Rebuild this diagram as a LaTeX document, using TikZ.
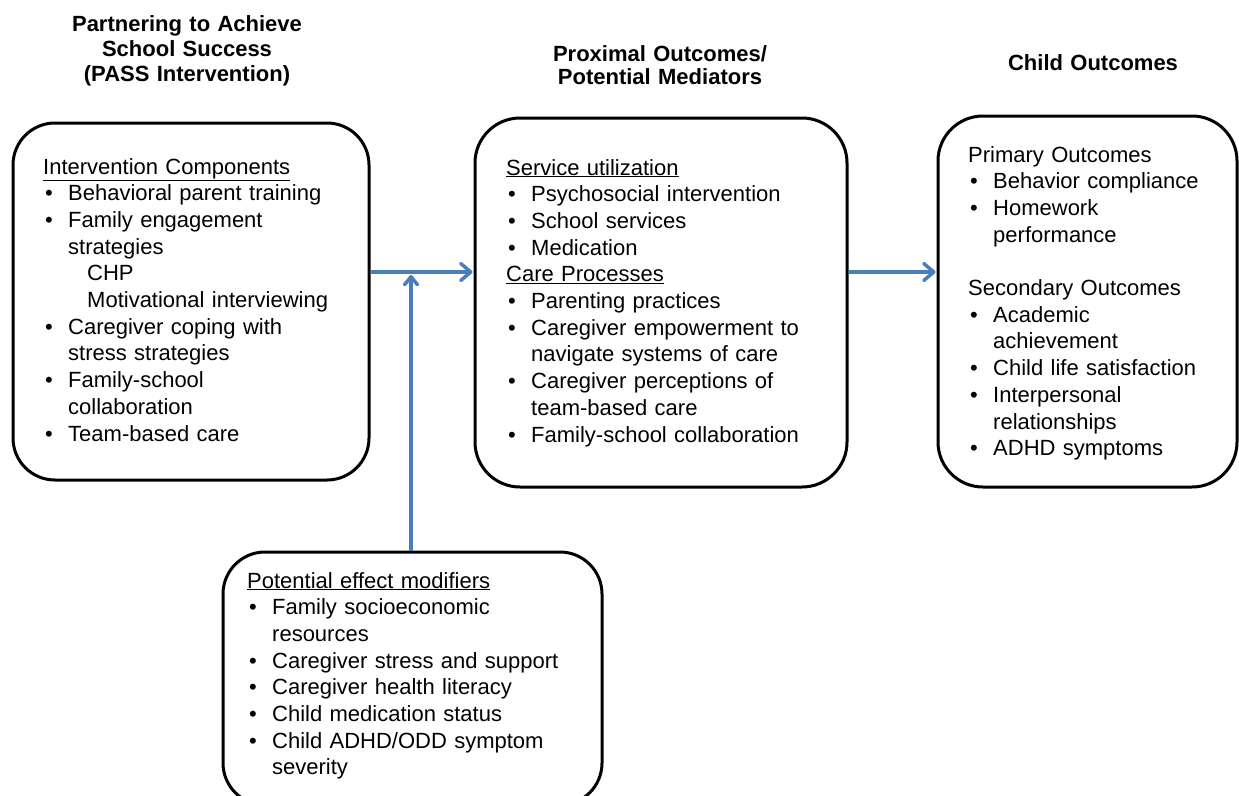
\documentclass[tikz,border=0pt]{standalone}
\usepackage{fontspec}
\setmainfont{Liberation Sans}
\usetikzlibrary{arrows.meta}
\definecolor{arrowblue}{RGB}{74,126,187}
\newcommand{\bl}{\makebox[25pt][l]{\hspace*{2pt}•}}
\newcommand{\ci}{\hspace*{25pt}}
\begin{document}
\begin{tikzpicture}[x=1pt,y=-1pt,
  boxstyle/.style={draw=black, line width=3pt, rounded corners=42pt, inner sep=0pt},
  bodytext/.style={anchor=base west, inner sep=0pt, text width=340pt, align=left, font=\fontsize{22}{26.7}\selectfont},
  titletext/.style={anchor=base, inner sep=0pt, text width=320pt, align=center, font=\fontsize{22}{25}\selectfont\bfseries},
  flow/.style={draw=arrowblue, line width=3.5pt, -{Straight Barb[length=10pt,width=17pt,round]}},
  flowsmall/.style={draw=arrowblue, line width=3.5pt, -{Straight Barb[length=8pt,width=13pt,round]}}
]
\useasboundingbox (0,0) rectangle (1239,795);
\clip (0,0) rectangle (1239,795);

% titles
\node[titletext] (title1) at (187,31) {Partnering to Achieve\\School Success\\(PASS Intervention)};
\node[titletext, font=\fontsize{22}{23}\selectfont\bfseries] (title2) at (660,61) {Proximal Outcomes/\\Potential Mediators};
\node[titletext] (title3) at (1093,70) {Child Outcomes};

% boxes
\node[boxstyle, minimum width=356pt, minimum height=357pt] (box1) at (191,301.5) {};
\node[boxstyle, minimum width=372pt, minimum height=369pt, rounded corners=45pt] (box2) at (661,302.5) {};
\node[boxstyle, minimum width=299pt, minimum height=371pt, rounded corners=45pt] (box3) at (1087.5,301.5) {};
\node[boxstyle, minimum width=379pt, minimum height=253pt] (box4) at (412.5,678.5) {};

% box texts
\node[bodytext] (t1) at (43,174) {\underline{Intervention Components}\\
\bl Behavioral parent training\\
\bl Family engagement\\
\ci strategies\\
\hspace*{44pt}CHP\\
\hspace*{44pt}Motivational interviewing\\
\bl Caregiver coping with\\
\ci stress strategies\\
\bl Family-school\\
\ci collaboration\\
\bl Team-based care};

\node[bodytext] (t2) at (506,175) {\underline{Service utilization}\\
\bl Psychosocial intervention\\
\bl School services\\
\bl Medication\\
\underline{Care Processes}\\
\bl Parenting practices\\
\bl Caregiver empowerment to\\
\ci navigate systems of care\\
\bl Caregiver perceptions of\\
\ci team-based care\\
\bl Family-school collaboration};

\node[bodytext] (t3) at (968,162) {Primary Outcomes\\
\bl Behavior compliance\\
\bl Homework\\
\ci performance\\
\mbox{}\\
Secondary Outcomes\\
\bl Academic\\
\ci achievement\\
\bl Child life satisfaction\\
\bl Interpersonal\\
\ci relationships\\
\bl ADHD symptoms};

\node[bodytext] (t4) at (247,588) {\underline{Potential effect modifiers}\\
\bl Family socioeconomic\\
\ci resources\\
\bl Caregiver stress and support\\
\bl Caregiver health literacy\\
\bl Child medication status\\
\bl Child ADHD/ODD symptom\\
\ci severity};

% connectors
\coordinate (join) at (411,275);
\draw[flow, shorten >=1pt] ([yshift=29.5pt]box1.east) -- ([yshift=30.5pt]box2.west);
\draw[flow, shorten >=1pt] ([yshift=30.5pt]box2.east) -- ([yshift=29.5pt]box3.west);
\draw[flowsmall] ([xshift=-1.5pt]box4.north) -- (join);
\end{tikzpicture}
\end{document}
